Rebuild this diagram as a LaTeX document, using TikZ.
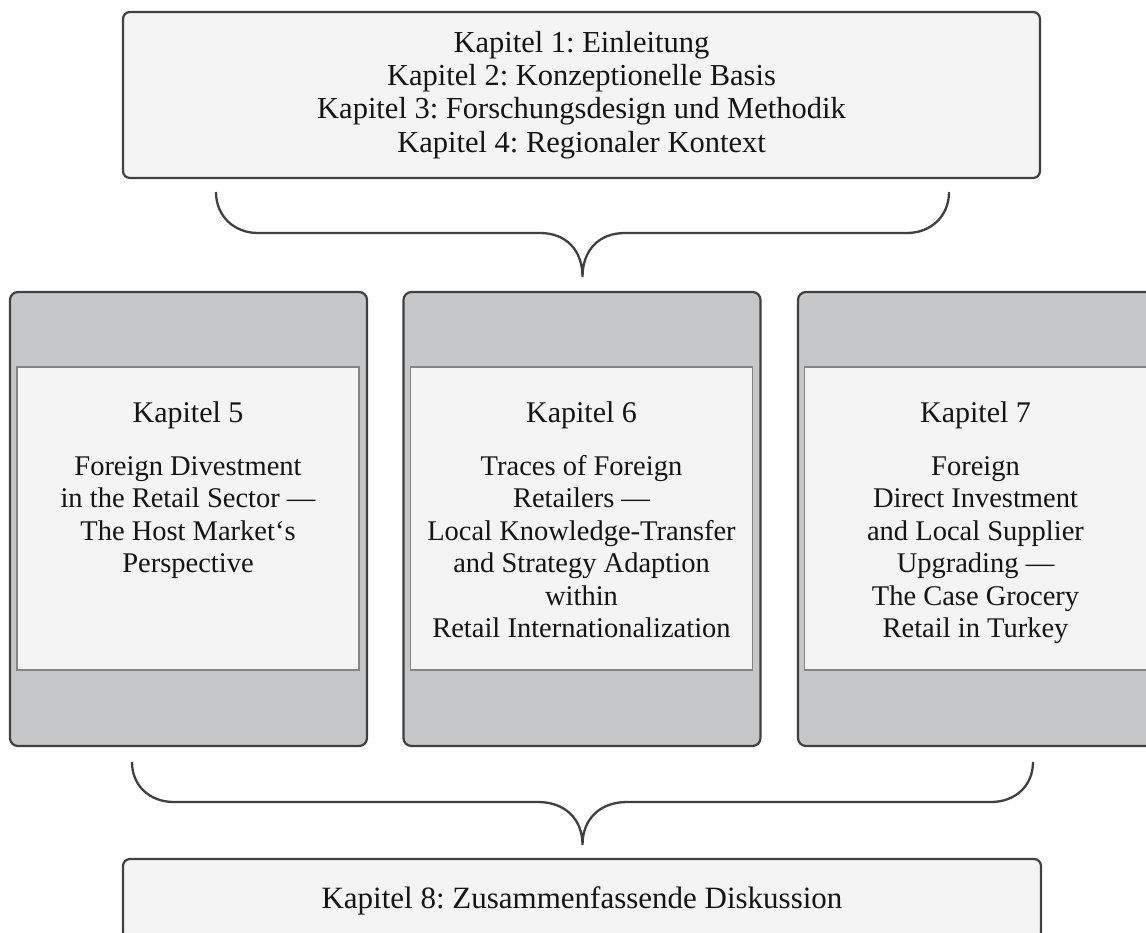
\documentclass[tikz,border=0pt]{standalone}
\usepackage{fontspec}
\setmainfont{Liberation Serif}
\definecolor{panelgray}{HTML}{C6C7C9}
\definecolor{lightfill}{HTML}{F4F4F4}
\definecolor{edge}{HTML}{404040}
\definecolor{inneredge}{HTML}{858585}
\definecolor{txt}{HTML}{141414}
\tikzset{
  topbox/.style={draw=edge, fill=lightfill, line width=2.2pt, rounded corners=7pt, inner sep=0pt},
  panelbox/.style={draw=edge, fill=panelgray, line width=2.2pt, rounded corners=8pt, inner sep=0pt, minimum width=357pt, minimum height=454pt},
  innerbox/.style={draw=inneredge, fill=lightfill, line width=1.3pt, inner sep=0pt, minimum width=342pt, minimum height=303pt},
  bodytext/.style={text=txt, align=center, inner sep=0pt, font=\frenchspacing\fontsize{28.5}{32.5}\selectfont},
  headtext/.style={text=txt, inner sep=0pt, font=\fontsize{30}{34}\selectfont},
  bracestyle/.style={draw=edge, line width=2.3pt},
}
\begin{document}
\frenchspacing
\begin{tikzpicture}[x=1pt,y=-1pt]
\useasboundingbox (0,0) rectangle (1146,932);
% top box
\node[topbox, minimum width=917pt, minimum height=166pt] (top) at (581.5,95) {};
\node[bodytext, font=\frenchspacing\fontsize{30.5}{33.3}\selectfont, anchor=north] (toptext) at (581.5,30)
  {\rule{0pt}{22pt}Kapitel 1: Einleitung\\Kapitel 2: Konzeptionelle Basis\\Kapitel 3: Forschungsdesign und Methodik\\Kapitel 4: Regionaler Kontext};
% top brace
\coordinate (b1l) at (216,192);
\coordinate (b1r) at (949,192);
\coordinate (b1tip) at (582.5,277);
\draw[bracestyle] (b1l) .. controls (216,216) and (234,233) .. (258,233) -- (540,233)
  .. controls (566,233) and (582.5,250) .. (b1tip)
  .. controls (582.5,250) and (599,233) .. (625,233) -- (907,233)
  .. controls (931,233) and (949,216) .. (b1r);
% panels
\node[panelbox] (p5) at (188.5,519) {};
\node[panelbox] (p6) at (582,519) {};
\node[panelbox] (p7) at (976.5,519) {};
\node[innerbox] (i5) at (188,518.5) {};
\node[innerbox] (i6) at (581.5,518.5) {};
\node[innerbox] (i7) at (975.5,518.5) {};
% panel texts
\node[headtext, anchor=base] (h5) at (188,422) {Kapitel 5};
\node[headtext, anchor=base] (h6) at (581.5,422) {Kapitel 6};
\node[headtext, anchor=base] (h7) at (975.5,422) {Kapitel 7};
\node[bodytext, anchor=north] (t5) at (188,455)
  {\rule{0pt}{20pt}Foreign Divestment\\in the Retail Sector ---\\The Host Market‘s\\Perspective};
\node[bodytext, anchor=north] (t6) at (581.5,455)
  {\rule{0pt}{20pt}Traces of Foreign\\Retailers ---\\Local Knowledge-Transfer\\and Strategy Adaption\\within\\Retail Internationalization};
\node[bodytext, anchor=north] (t7) at (975.5,455)
  {\rule{0pt}{20pt}Foreign\\Direct Investment\\and Local Supplier\\Upgrading ---\\The Case Grocery\\Retail in Turkey};
% bottom brace
\coordinate (b2l) at (132,762);
\coordinate (b2r) at (1033,762);
\coordinate (b2tip) at (582.5,845);
\draw[bracestyle] (b2l) .. controls (132,786) and (150,802) .. (174,802) -- (538,802)
  .. controls (564,802) and (582.5,818) .. (b2tip)
  .. controls (582.5,818) and (601,802) .. (627,802) -- (991,802)
  .. controls (1015,802) and (1033,786) .. (b2r);
% bottom box
\node[topbox, minimum width=918pt, minimum height=80pt] (bottom) at (582,899) {};
\node[bodytext, font=\frenchspacing\fontsize{31}{34}\selectfont, anchor=base] (bottomtext) at (582,908) {Kapitel 8: Zusammenfassende Diskussion};
\end{tikzpicture}
\end{document}
